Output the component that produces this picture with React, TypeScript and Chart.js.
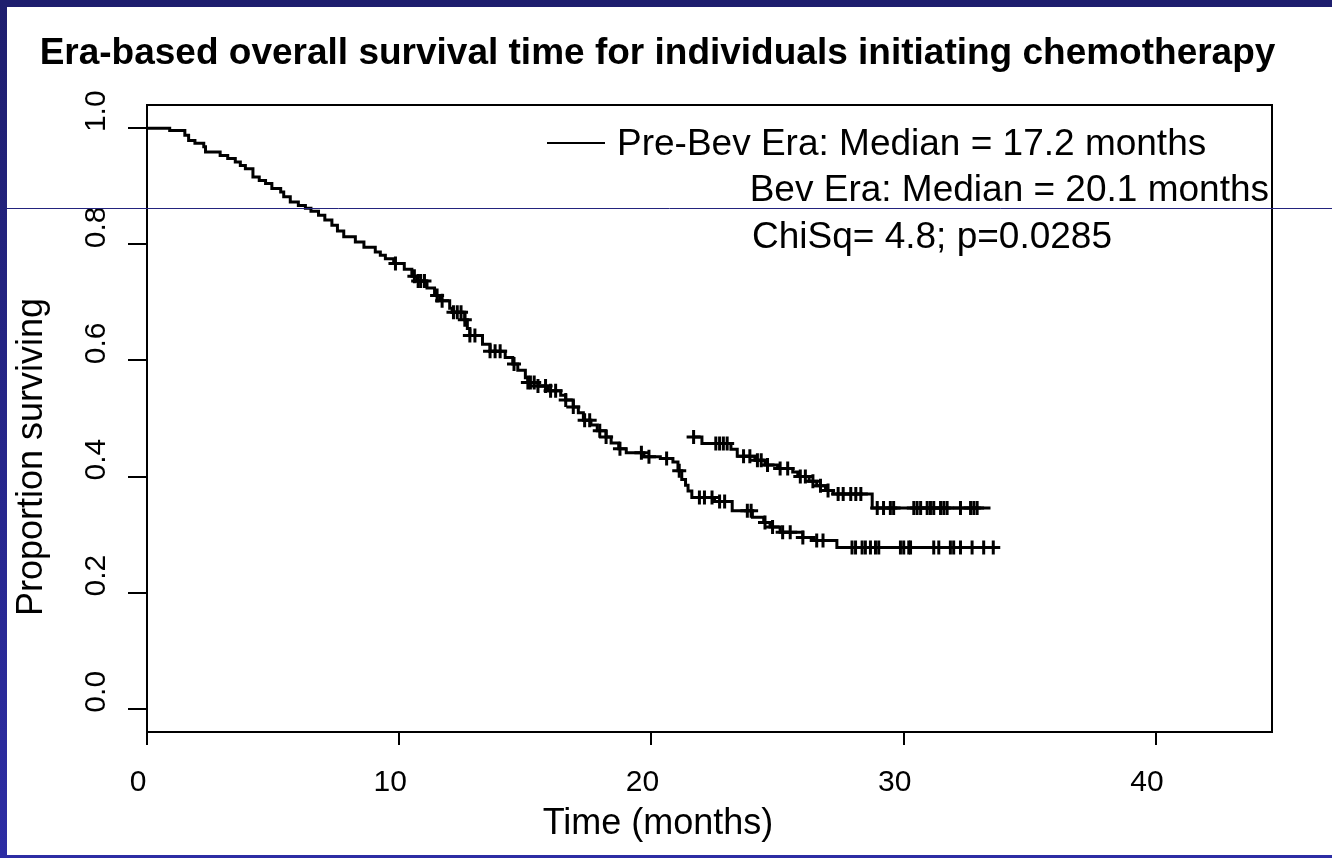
import React, { useEffect, useRef } from 'react';
import { Chart, registerables } from 'chart.js';

Chart.register(...registerables);

const FONT = '"Liberation Sans", Arial, Helvetica, sans-serif';

const TITLE = 'Era-based overall survival time for individuals initiating chemotherapy';
const X_TITLE = 'Time (months)';
const Y_TITLE = 'Proportion surviving';
const LEGEND_LINES = [
  'Pre-Bev Era: Median = 17.2 months',
  'Bev Era: Median = 20.1 months',
  'ChiSq= 4.8; p=0.0285',
];

const X_TICKS = [0, 10, 20, 30, 40];
const Y_TICKS = [0, 0.2, 0.4, 0.6, 0.8, 1.0];
const Y_TICK_LABELS = ['0.0', '0.2', '0.4', '0.6', '0.8', '1.0'];

// Pre-Bev era curve: step times (months) and survival after each step
const preTimes = [
  0, 0.9, 1.5, 1.65, 1.9, 2.25, 2.32, 2.9, 3.2, 3.5, 3.7, 3.9, 4.2, 4.45, 4.7, 4.95,
  5.3, 5.42, 5.68, 6.0, 6.28, 6.5, 6.8, 7.05, 7.33, 7.55, 7.8, 8.26, 8.6, 9.05, 9.25,
  9.45, 9.78, 10.2, 10.5, 10.7, 11.1, 11.4, 11.6, 12.0, 12.1, 12.6, 12.7, 12.8, 13.3,
  13.6, 14.2, 14.5, 14.7, 15.0, 15.1, 15.5, 15.9, 16.4, 16.6, 16.9, 17.1, 17.3, 17.6,
  17.85, 18.2, 18.4, 18.7, 19.0, 19.7, 20.35, 20.85, 21.05, 21.2, 21.35, 21.45, 21.6,
  22.5, 23.2, 24.0, 24.45, 24.7, 25.1, 26.0, 26.45, 27.35, 33.55,
];
const preSurv = [
  1.0, 0.996, 0.988, 0.979, 0.974, 0.968, 0.959, 0.953, 0.948, 0.942, 0.936, 0.93, 0.916, 0.91, 0.905, 0.896,
  0.89, 0.882, 0.873, 0.867, 0.862, 0.857, 0.85, 0.842, 0.833, 0.823, 0.813, 0.804, 0.795, 0.787, 0.781,
  0.775, 0.767, 0.757, 0.745, 0.737, 0.725, 0.712, 0.703, 0.69, 0.683, 0.67, 0.655, 0.643, 0.628,
  0.616, 0.605, 0.594, 0.583, 0.57, 0.562, 0.556, 0.548, 0.54, 0.532, 0.52, 0.51, 0.497, 0.489,
  0.479, 0.468, 0.458, 0.448, 0.441, 0.434, 0.431, 0.425, 0.41, 0.395, 0.385, 0.375, 0.364,
  0.357, 0.341, 0.33, 0.321, 0.313, 0.304, 0.295, 0.29, 0.278, 0.278,
];
const preCensorTimes = [
  9.85, 10.6, 10.75, 10.85, 11.0, 11.5, 11.7, 12.15, 12.3, 12.45, 12.6, 12.8, 13.0, 13.6, 13.8,
  14.0, 14.55, 15.1, 15.2, 15.35, 15.5, 15.8, 16.0, 16.2, 16.6, 16.9, 17.35, 17.55, 17.95, 18.2,
  18.75, 19.6, 19.9, 20.6, 21.1, 21.9, 22.1, 22.4, 22.7, 22.9, 23.8, 23.95, 24.5, 24.8, 25.2,
  25.5, 26.0, 26.55, 26.8, 27.95, 28.09, 28.35, 28.48, 28.68, 28.88, 29.01, 29.87, 30.0, 30.2,
  30.27, 31.19, 31.39, 31.85, 31.98, 32.25, 32.71, 33.17, 33.55,
];

// Bev era curve (visible tail)
const bevTimes = [21.67, 22.0, 23.15, 23.4, 24.1, 24.5, 25.0, 25.6, 25.8, 26.25, 26.55, 26.9, 27.2, 28.75, 33.44];
const bevSurv = [0.468, 0.457, 0.447, 0.435, 0.428, 0.42, 0.414, 0.408, 0.4, 0.392, 0.384, 0.376, 0.37, 0.346, 0.346];
const bevCensorTimes = [
  21.67, 22.55, 22.7, 22.85, 23.0, 23.65, 23.9, 24.2, 24.35, 24.6, 25.1, 25.4, 25.9, 26.1, 26.4,
  26.7, 27.0, 27.4, 27.6, 27.9, 28.1, 28.3, 28.95, 29.2, 29.47, 29.6, 30.4, 30.53, 30.67, 30.93,
  31.06, 31.19, 31.46, 31.59, 31.72, 32.25, 32.65, 32.78, 32.91,
];

function survAt(times: number[], surv: number[], t: number): number {
  let v = surv[0];
  for (let i = 0; i < times.length; i++) {
    if (times[i] <= t + 1e-9) v = surv[i];
  }
  return v;
}

export default function App() {
  const ref = useRef<HTMLCanvasElement>(null);

  useEffect(() => {
    const canvas = ref.current;
    if (!canvas) return;

    const decor = {
      id: 'decor',
      beforeDraw(chart: any) {
        const { ctx, width, height } = chart;
        ctx.save();
        ctx.fillStyle = '#ffffff';
        ctx.fillRect(0, 0, width, height);
        const g = ctx.createLinearGradient(0, 0, 0, height);
        g.addColorStop(0, '#1e1e6e');
        g.addColorStop(1, '#2d2da4');
        ctx.fillStyle = g;
        ctx.fillRect(0, 0, width, 7);
        ctx.fillRect(0, 0, 7, height);
        ctx.fillRect(0, height - 3, width, 3);
        ctx.restore();
      },
      afterDraw(chart: any) {
        const { ctx, chartArea: a } = chart;
        ctx.save();
        ctx.strokeStyle = '#000';
        ctx.lineWidth = 2;
        ctx.strokeRect(a.left, a.top, a.right - a.left, a.bottom - a.top);

        ctx.fillStyle = '#000';
        ctx.textBaseline = 'alphabetic';
        ctx.font = `bold 37px ${FONT}`;
        ctx.textAlign = 'center';
        ctx.fillText(TITLE, 657.5, 64);

        ctx.font = `37px ${FONT}`;
        ctx.beginPath();
        ctx.moveTo(547, 143);
        ctx.lineTo(605, 143);
        ctx.stroke();
        ctx.textAlign = 'left';
        ctx.fillText(LEGEND_LINES[0], 617, 155);
        ctx.textAlign = 'right';
        ctx.fillText(LEGEND_LINES[1], 1269, 201);
        ctx.textAlign = 'left';
        ctx.fillText(LEGEND_LINES[2], 752, 248);

        ctx.font = `36px ${FONT}`;
        ctx.textAlign = 'center';
        ctx.fillText(X_TITLE, 658, 834);
        ctx.save();
        ctx.translate(42, 457);
        ctx.rotate(-Math.PI / 2);
        ctx.fillText(Y_TITLE, 0, 0);
        ctx.restore();

        ctx.strokeStyle = '#23237d';
        ctx.lineWidth = 1;
        ctx.beginPath();
        ctx.moveTo(7, 208.5);
        ctx.lineTo(chart.width, 208.5);
        ctx.stroke();
        ctx.restore();
      },
    };

    const tickFont = { family: FONT, size: 30 };

    const chart = new Chart(canvas, {
      type: 'scatter',
      data: {
        datasets: [
          {
            label: 'Pre-Bev Era',
            data: preTimes.map((t, i) => ({ x: t, y: preSurv[i] })),
            showLine: true,
            stepped: true,
            borderColor: '#000',
            borderWidth: 3,
            pointRadius: 0,
            fill: false,
          } as any,
          {
            label: 'Bev Era',
            data: bevTimes.map((t, i) => ({ x: t, y: bevSurv[i] })),
            showLine: true,
            stepped: true,
            borderColor: '#000',
            borderWidth: 3,
            pointRadius: 0,
            fill: false,
          } as any,
          {
            label: 'Pre-Bev censored',
            data: preCensorTimes.map((t) => ({ x: t, y: survAt(preTimes, preSurv, t) })),
            showLine: false,
            pointStyle: 'cross',
            pointRadius: 7,
            borderColor: '#000',
            backgroundColor: '#000',
            borderWidth: 3,
          } as any,
          {
            label: 'Bev censored',
            data: bevCensorTimes.map((t) => ({ x: t, y: survAt(bevTimes, bevSurv, t) })),
            showLine: false,
            pointStyle: 'cross',
            pointRadius: 7,
            borderColor: '#000',
            backgroundColor: '#000',
            borderWidth: 3,
          } as any,
        ],
      },
      options: {
        responsive: false,
        animation: false,
        devicePixelRatio: 1,
        layout: { padding: { left: 0, top: 105, right: 60, bottom: 0 } },
        plugins: {
          legend: { display: false },
          title: { display: false },
          tooltip: { enabled: false },
        },
        scales: {
          x: {
            type: 'linear',
            position: 'bottom',
            min: 0,
            max: 44.6,
            afterBuildTicks: (s: any) => {
              s.ticks = X_TICKS.map((v) => ({ value: v }));
            },
            afterFit: (s: any) => {
              s.height = 126;
            },
            ticks: {
              font: tickFont,
              color: '#000',
              padding: 20,
              labelOffset: -9,
              maxRotation: 0,
              minRotation: 0,
              autoSkip: false,
              callback: (v: any) => String(v),
            },
            grid: {
              display: true,
              drawOnChartArea: false,
              drawTicks: true,
              tickLength: 13,
              color: '#000',
              lineWidth: 2,
            },
            border: { display: true, color: '#000', width: 2 },
          },
          y: {
            type: 'linear',
            position: 'left',
            min: -0.04,
            max: 1.04,
            afterBuildTicks: (s: any) => {
              s.ticks = Y_TICKS.map((v) => ({ value: v }));
            },
            afterFit: (s: any) => {
              s.width = 147;
            },
            ticks: {
              font: tickFont,
              color: '#000',
              padding: 10,
              labelOffset: -17,
              minRotation: 90,
              maxRotation: 90,
              crossAlign: 'center',
              autoSkip: false,
              callback: (v: any) => {
                const i = Y_TICKS.findIndex((t) => Math.abs(t - Number(v)) < 1e-6);
                return i >= 0 ? Y_TICK_LABELS[i] : '';
              },
            },
            grid: {
              display: true,
              drawOnChartArea: false,
              drawTicks: true,
              tickLength: 19,
              color: '#000',
              lineWidth: 2,
            },
            border: { display: true, color: '#000', width: 2 },
          },
        },
      } as any,
      plugins: [decor],
    });

    return () => chart.destroy();
  }, []);

  return (
    <div style={{ position: 'fixed', left: 0, top: 0, width: 1332, height: 858, background: '#fff' }}>
      <canvas ref={ref} width={1332} height={858} style={{ display: 'block', width: 1332, height: 858 }} />
    </div>
  );
}
